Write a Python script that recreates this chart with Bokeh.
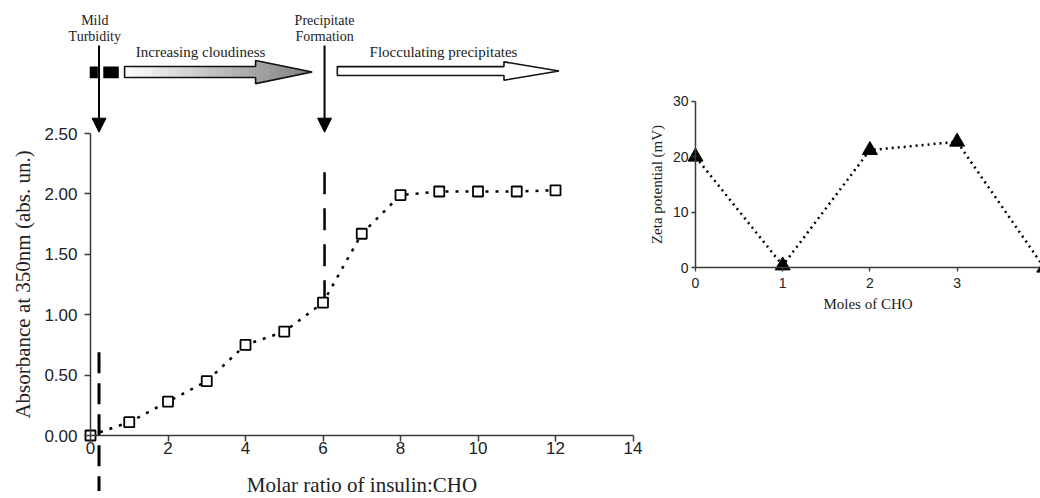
import numpy as np
from bokeh.plotting import figure
from bokeh.layouts import row
from bokeh.models import Range1d, FixedTicker, NumeralTickFormatter, Arrow, NormalHead
from bokeh.core.properties import value
from bokeh.embed import file_html
from bokeh.resources import INLINE

# ---------------- data ----------------
molar_ratio = [0, 1, 2, 3, 4, 5, 6, 7, 8, 9, 10, 11, 12]
absorbance = [0.00, 0.11, 0.28, 0.45, 0.75, 0.86, 1.10, 1.67, 1.99, 2.02, 2.02, 2.02, 2.03]
abs_x_ticks = [0, 2, 4, 6, 8, 10, 12, 14]
abs_y_ticks = [0.0, 0.5, 1.0, 1.5, 2.0, 2.5]

moles_cho = [0, 1, 2, 3, 4]
zeta_mv = [20.0, 0.4, 21.2, 22.7, 0.0]
zeta_x_ticks = [0, 1, 2, 3, 4]
zeta_y_ticks = [0, 10, 20, 30]

# stage markers (molar ratio where turbidity / precipitation start)
turbidity_ratio = 0.22
precipitate_ratio = 6.04

SERIF = "Liberation Serif"
SANS = "Liberation Sans"
AX = "#3a3a3a"

LEFT_W = 646

# ---------------- left chart ----------------
p = figure(width=LEFT_W, height=498,
           x_range=Range1d(-2.3226, (LEFT_W - 90) / 38.75), y_range=Range1d(-0.5215, 3.601),
           output_backend="svg", toolbar_location=None, min_border=0)
p.outline_line_color = None
p.grid.visible = False
p.background_fill_color = "white"
p.border_fill_color = "white"

p.xaxis.fixed_location = 0
p.yaxis.fixed_location = 0
p.xaxis.bounds = (0, 14)
p.yaxis.bounds = (0, 2.5)
p.xaxis.ticker = FixedTicker(ticks=abs_x_ticks)
p.yaxis.ticker = FixedTicker(ticks=abs_y_ticks)
p.yaxis.formatter = NumeralTickFormatter(format="0.00")
for ax in (p.xaxis, p.yaxis):
    ax.axis_line_color = AX
    ax.axis_line_width = 1.5
    ax.major_tick_line_color = AX
    ax.major_tick_line_width = 1.5
    ax.major_tick_out = 6
    ax.major_tick_in = 0
    ax.minor_tick_line_color = None
    ax.major_label_text_font = SANS
    ax.major_label_text_font_size = "17px"
    ax.major_label_text_color = "#222222"
    ax.axis_label_text_font = SERIF
    ax.axis_label_text_font_size = "21px"
    ax.axis_label_text_font_style = "normal"
    ax.axis_label_text_color = "#222222"
p.xaxis.axis_label = "Molar ratio of insulin:CHO"
p.yaxis.axis_label = "Absorbance at 350nm (abs. un.)"
p.xaxis.major_label_standoff = 0
p.xaxis.axis_label_standoff = 16
p.yaxis.major_label_standoff = 7
p.yaxis.axis_label_standoff = 6

# dashed stage lines
p.line([turbidity_ratio, turbidity_ratio], [0.69, -0.46], line_color="black",
       line_width=3, line_dash="21 10")
p.line([precipitate_ratio, precipitate_ratio], [2.18, 1.02], line_color="black",
       line_width=2.5, line_dash="22 14")

# data
p.line(molar_ratio, absorbance, line_color="black", line_width=2.5, line_dash="3 7")
p.scatter(molar_ratio, absorbance, marker="square", size=10, fill_color="white",
          line_color="black", line_width=1.8)

# ---------- stage annotations above the plot ----------
head_top, head_tip = 3.228, 2.511
for xs in (turbidity_ratio, precipitate_ratio):
    p.add_layout(Arrow(end=NormalHead(size=14, fill_color="black", line_color="black"),
                       x_start=xs, y_start=head_top, x_end=xs, y_end=head_tip,
                       line_color="black", line_width=2))

p.text(x=[0.11, 0.11, 6.04, 6.04], y=[3.435, 3.299, 3.435, 3.299],
       text=["Mild", "Turbidity", "Precipitate", "Formation"],
       text_font=value(SERIF), text_font_size="14px", text_align="center",
       text_baseline="middle", text_color="#222222")
p.text(x=[2.84, 9.11], y=[3.175, 3.175],
       text=["Increasing cloudiness", "Flocculating precipitates"],
       text_font=value(SERIF), text_font_size="15px", text_align="center",
       text_baseline="middle", text_color="#222222")

# black blocks
p.quad(left=[-0.02, 0.33], right=[0.19, 0.73], bottom=[2.958, 2.958], top=[3.055, 3.055],
       fill_color="black", line_color=None)


def arrow_outline(x0, x1, x2, yc, h1, h2):
    xs = [x0, x1, x1, x2, x1, x1, x0]
    ys = [yc + h1, yc + h1, yc + h2, yc, yc - h2, yc - h1, yc - h1]
    return xs, ys


def half_height(x, x1, x2, h1, h2):
    if x < x1:
        return h1
    return h2 * (x2 - x) / (x2 - x1)


# gradient arrow (increasing cloudiness)
g0, g1, g2, gyc, gh1, gh2 = 0.88, 4.26, 5.72, 3.009, 0.046, 0.096
n = 70
edges = sorted(set(list(np.linspace(g0, g2, n + 1)) + [g1]))
strip_xs, strip_ys, strip_cols = [], [], []
for a, b in zip(edges[:-1], edges[1:]):
    if a < g1:
        ha = hb = gh1
    else:
        ha = half_height(a, g1, g2, gh1, gh2)
        hb = half_height(b, g1, g2, gh1, gh2)
    strip_xs.append([a, b, b, a])
    strip_ys.append([gyc + ha, gyc + hb, gyc - hb, gyc - ha])
    t = ((a + b) / 2 - g0) / (g2 - g0)
    c = int(round(255 - t * (255 - 125)))
    strip_cols.append("#%02x%02x%02x" % (c, c, c))
p.patches(strip_xs, strip_ys, fill_color=strip_cols, line_color=strip_cols, line_width=0.6)
gx, gy = arrow_outline(g0, g1, g2, gyc, gh1, gh2)
p.patch(gx, gy, fill_color=None, line_color="#111111", line_width=1.6)

# white arrow (flocculating precipitates)
wx, wy = arrow_outline(6.37, 10.67, 12.09, 3.017, 0.037, 0.076)
p.patch(wx, wy, fill_color="white", line_color="#111111", line_width=1.6)

# ---------------- right chart ----------------
RIGHT_W = 1040 - LEFT_W
zx0 = 695 - LEFT_W
q = figure(width=RIGHT_W, height=498,
           x_range=Range1d(-zx0 / 87.2, (RIGHT_W - zx0) / 87.2),
           y_range=Range1d(-41.57, 48.16),
           output_backend="svg", toolbar_location=None, min_border=0)
q.outline_line_color = None
q.grid.visible = False
q.background_fill_color = "white"
q.border_fill_color = "white"
q.xaxis.fixed_location = 0
q.yaxis.fixed_location = 0
q.xaxis.bounds = (0, 5)
q.yaxis.bounds = (0, 30)
q.xaxis.ticker = FixedTicker(ticks=zeta_x_ticks)
q.yaxis.ticker = FixedTicker(ticks=zeta_y_ticks)
for ax in (q.xaxis, q.yaxis):
    ax.axis_line_color = AX
    ax.axis_line_width = 1.5
    ax.major_tick_line_color = AX
    ax.major_tick_line_width = 1.3
    ax.major_tick_out = 4
    ax.major_tick_in = 0
    ax.minor_tick_line_color = None
    ax.major_label_text_font = SANS
    ax.major_label_text_font_size = "14px"
    ax.major_label_text_color = "#222222"
    ax.axis_label_text_font = SERIF
    ax.axis_label_text_font_size = "15px"
    ax.axis_label_text_font_style = "normal"
    ax.axis_label_text_color = "#222222"
q.xaxis.axis_label = "Moles of CHO"
q.yaxis.axis_label = "Zeta potential (mV)"
q.xaxis.major_label_standoff = 6
q.xaxis.axis_label_standoff = 5
q.yaxis.major_label_standoff = 3
q.yaxis.axis_label_standoff = 5

q.line(moles_cho, zeta_mv, line_color="black", line_width=2.5, line_dash="2 4")
q.scatter(moles_cho, zeta_mv, marker="triangle", size=15, fill_color="black",
          line_color="black")

layout = row(p, q)
open("out.html", "w").write(file_html(layout, INLINE))
